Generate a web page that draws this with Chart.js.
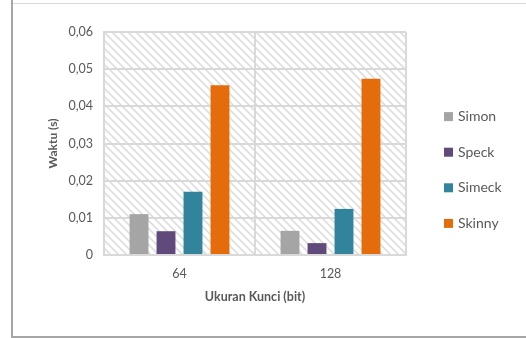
<!DOCTYPE html>
<html>
<head>
<meta charset="utf-8">
<style>
  html, body { margin: 0; padding: 0; background: #ffffff; }
  #wrap { width: 526px; height: 338px; position: relative; }
</style>
<script src="https://cdn.jsdelivr.net/npm/chart.js@4/dist/chart.umd.min.js"></script>
</head>
<body>
<div id="wrap"><canvas id="chart" width="526" height="338"></canvas></div>
<script>
// Key sizes on the category axis
const categories = ['64', '128'];

// Encryption time in seconds per algorithm
const simon  = [0.0110, 0.0065];
const speck  = [0.0064, 0.0032];
const simeck = [0.0170, 0.0124];
const skinny = [0.0457, 0.0474];

const seriesNames = ['Simon', 'Speck', 'Simeck', 'Skinny'];
const seriesColors = ['#a5a5a5', '#604a7b', '#31849b', '#e46c0a'];

const yTickLabels = ['0', '0,01', '0,02', '0,03', '0,04', '0,05', '0,06'];

const FONT = 'Lato, "Open Sans", sans-serif';
const TEXT = '#595959';

// Diagonal hatch fill for the plot area
function makeHatch(ctx) {
  const c = document.createElement('canvas');
  c.width = 8; c.height = 8;
  const p = c.getContext('2d');
  p.strokeStyle = '#dedede';
  p.lineWidth = 1.6;
  p.beginPath();
  p.moveTo(-1, -1); p.lineTo(9, 9);
  p.moveTo(-1, 7); p.lineTo(1, 9);
  p.moveTo(7, -1); p.lineTo(9, 1);
  p.stroke();
  return ctx.createPattern(c, 'repeat');
}

const hatchPlugin = {
  id: 'hatch',
  beforeDraw(chart) {
    const { ctx, chartArea: a } = chart;
    ctx.save();
    ctx.fillStyle = makeHatch(ctx);
    ctx.fillRect(a.left, a.top, a.right - a.left, a.bottom - a.top);
    ctx.restore();
  }
};

// Legend drawn as a vertical list to the right of the plot
const sideLegend = {
  id: 'sideLegend',
  afterDraw(chart) {
    const { ctx } = chart;
    const sets = chart.data.datasets;
    const step = 35.6;
    const x = chart.chartArea.right + 38;
    const cy = chart.height / 2 + 1;
    const y0 = cy - step * (sets.length - 1) / 2;
    ctx.save();
    ctx.font = '14px ' + FONT;
    ctx.textBaseline = 'middle';
    ctx.textAlign = 'left';
    sets.forEach((ds, i) => {
      const y = y0 + i * step;
      ctx.fillStyle = ds.backgroundColor;
      ctx.fillRect(x, y - 4.5, 9, 9);
      ctx.fillStyle = TEXT;
      ctx.fillText(ds.label, x + 14, y);
    });
    ctx.restore();
  }
};

// Outer chart frame
const framePlugin = {
  id: 'frame',
  afterDraw(chart) {
    const { ctx, width, height } = chart;
    ctx.save();
    ctx.strokeStyle = '#d9d9d9';
    ctx.lineWidth = 1;
    ctx.beginPath();
    ctx.moveTo(12, 3.5); ctx.lineTo(width, 3.5);
    ctx.stroke();
    ctx.strokeStyle = '#a6a6a6';
    ctx.lineWidth = 2;
    ctx.beginPath();
    ctx.moveTo(12, 0); ctx.lineTo(12, height - 1); ctx.lineTo(width, height - 1);
    ctx.stroke();
    ctx.restore();
  }
};

const values = [simon, speck, simeck, skinny];

new Chart(document.getElementById('chart'), {
  type: 'bar',
  data: {
    labels: categories,
    datasets: values.map((v, i) => ({
      label: seriesNames[i],
      data: v,
      backgroundColor: seriesColors[i],
      borderWidth: 0,
      categoryPercentage: 0.715,
      barPercentage: 0.7
    }))
  },
  options: {
    responsive: false,
    animation: false,
    devicePixelRatio: 1,
    layout: { padding: { top: 32, right: 120, left: 0, bottom: 0 } },
    plugins: {
      legend: { display: false },
      tooltip: { enabled: false }
    },
    scales: {
      x: {
        afterFit(s) { s.height = 83; },
        grid: { color: '#d9d9d9', lineWidth: 2, drawTicks: false, offset: true },
        border: { display: true, color: '#d9d9d9', width: 2 },
        ticks: { color: TEXT, font: { family: FONT, size: 12.5 }, padding: 11 },
        title: {
          display: true,
          text: 'Ukuran Kunci (bit)',
          color: TEXT,
          font: { family: FONT, size: 12.5, weight: 'bold' },
          padding: { top: 0, bottom: 34 }
        }
      },
      y: {
        afterFit(s) { s.width = 104; },
        min: 0,
        max: 0.06,
        grid: { color: '#d9d9d9', lineWidth: 2, drawTicks: false },
        border: { display: true, color: '#d9d9d9', width: 2 },
        ticks: {
          stepSize: 0.01,
          color: TEXT,
          font: { family: FONT, size: 12.5 },
          padding: 11,
          callback: (v, i) => yTickLabels[i]
        },
        title: {
          display: true,
          text: 'Waktu (s)',
          color: TEXT,
          font: { family: FONT, size: 12, weight: 'bold' },
          padding: { top: 46, bottom: 0 }
        }
      }
    }
  },
  plugins: [hatchPlugin, sideLegend, framePlugin]
});
</script>
</body>
</html>
